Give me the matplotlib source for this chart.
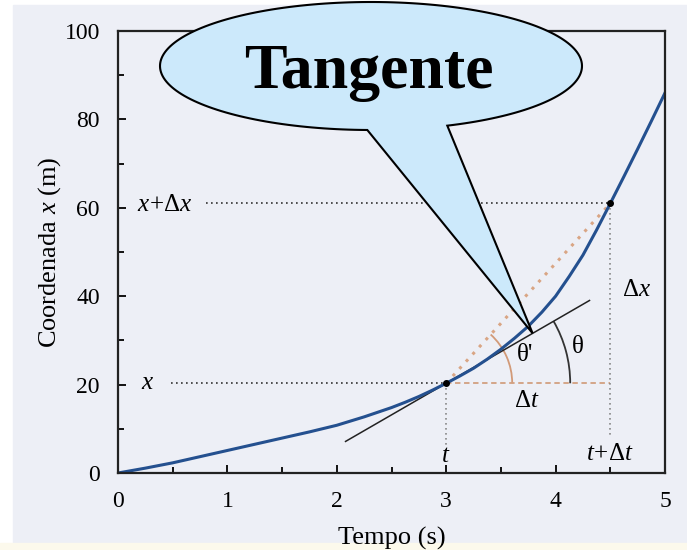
import numpy as np
import matplotlib.pyplot as plt
from matplotlib.patches import Arc, Polygon, Rectangle
from matplotlib.ticker import MultipleLocator

plt.rcParams['font.family'] = ['Liberation Serif', 'DejaVu Serif']
plt.rcParams['mathtext.fontset'] = 'custom'
plt.rcParams['mathtext.rm'] = 'Liberation Serif'
plt.rcParams['mathtext.it'] = 'Liberation Serif:italic'

# curva x(t)
tempo = [0, 0.25, 0.5, 0.75, 1.0, 1.25, 1.5, 1.75, 2.0, 2.25, 2.5,
         2.625, 2.75, 2.875, 3.0, 3.125, 3.25, 3.375, 3.5, 3.625, 3.75,
         3.875, 4.0, 4.125, 4.25, 4.375, 4.5, 4.625, 4.75, 4.875, 5.0]
posicao = [0, 1.1, 2.3, 3.7, 5.1, 6.5, 7.9, 9.3, 10.8, 12.7, 14.8,
           16.0, 17.3, 18.75, 20.3, 21.95, 23.7, 25.75, 28.0, 30.5, 33.2,
           36.4, 40.0, 44.5, 49.3, 55.0, 61.0, 67.1, 73.3, 79.6, 86.0]

t0, x0 = 3.0, 20.3      # instante t
t1, x1 = 4.5, 61.0      # instante t + dt
incl_tangente = 14.3    # m/s
tangente_t = [2.08, 4.31]
t_balao = 3.79          # ponta do balao sobre a tangente

W, H = 687, 550
fig = plt.figure(figsize=(W / 100, H / 100), dpi=100)
fig.patch.set_facecolor('white')
fig.patches.append(Rectangle((13 / W, 7 / H), 1 - 13 / W, 1 - 12 / H,
                             transform=fig.transFigure, color='#edeff6', zorder=-5))
fig.patches.append(Rectangle((0, 0), 1, 7 / H, transform=fig.transFigure,
                             color='#fcf9ec', zorder=-5))

ax = fig.add_axes([118 / W, 77 / H, 547 / W, 442 / H])
ax.set_facecolor('none')
ax.set_xlim(0, 5)
ax.set_ylim(0, 100)
ax.xaxis.set_major_locator(MultipleLocator(1))
ax.xaxis.set_minor_locator(MultipleLocator(0.5))
ax.yaxis.set_major_locator(MultipleLocator(20))
ax.yaxis.set_minor_locator(MultipleLocator(10))
ax.tick_params(which='both', direction='in', top=False, right=False, width=1.3)
ax.tick_params(which='major', length=6, labelsize=17, pad=13)
ax.tick_params(which='minor', length=4)
for s in ax.spines.values():
    s.set_linewidth(1.6)
    s.set_color('#222222')
ax.set_xlabel('Tempo (s)', fontsize=19, labelpad=11)
ax.set_ylabel('Coordenada $x$ (m)', fontsize=19, labelpad=1)

# linhas auxiliares
dot = (0, (1, 2))
ax.plot([0.48, t0], [x0, x0], color='#333333', lw=1.2, ls=dot)
ax.plot([0.8, t1], [x1, x1], color='#333333', lw=1.2, ls=dot)
ax.plot([t0, t1], [x0, x0], color='#d2a080', lw=1.3, ls=(0, (3, 2)))
ax.plot([t0, t0], [x0, 6], color='#888888', lw=1.2, ls=dot)
ax.plot([t1, t1], [x1, 8.5], color='#888888', lw=1.2, ls=dot)
ax.plot([t0, t1], [x0, x1], color='#d9a584', lw=2.2, ls=(0, (1, 2.2)))

# tangente em t
tg = np.array(tangente_t)
ax.plot(tg, x0 + incl_tangente * (tg - t0), color='#222222', lw=1.1)

ax.plot(tempo, posicao, color='#24508f', lw=2.2)
ax.plot([t0, t1], [x0, x1], 'o', color='black', ms=4)

# arcos dos angulos
sx, sy = 547 / 5, 442 / 100
r = 124
ax.add_patch(Arc((t0, x0), 2 * r / sx, 2 * r / sy, theta1=0,
                 theta2=np.degrees(np.arctan(incl_tangente)), color='#333333', lw=1.3))
r = 66
incl_secante = (x1 - x0) / (t1 - t0)
ax.add_patch(Arc((t0, x0), 2 * r / sx, 2 * r / sy, theta1=0,
                 theta2=np.degrees(np.arctan(incl_secante)), color='#d29a78', lw=1.3))

fs = 18
ax.text(0.27, x0, '$x$', ha='center', va='center', fontsize=fs)
ax.text(0.43, x1 - 0.3, r'$x\!+\!\Delta x$', ha='center', va='center', fontsize=fs)
ax.text(3.74, 16.2, r'$\Delta t$', ha='center', va='center', fontsize=fs)
ax.text(4.74, 41.5, r'$\Delta x$', ha='center', va='center', fontsize=fs)
ax.text(3.72, 26.8, "θ'", ha='center', va='center', fontsize=fs)
ax.text(4.2, 28.4, 'θ', ha='center', va='center', fontsize=fs)
ax.text(t0, 3.8, '$t$', ha='center', va='center', fontsize=fs)
ax.text(t1, 4.2, r'$t\!+\!\Delta t$', ha='center', va='center', fontsize=fs)

# balao "Tangente"
tip = ax.transData.transform((t_balao, x0 + incl_tangente * (t_balao - t0)))
cx, cy, a, b = 371, H - 66, 211, 64
ang = np.radians(np.linspace(-68.8, 269.0, 200))
px = np.append(cx + a * np.cos(ang), tip[0])
py = np.append(cy + b * np.sin(ang), tip[1])
fig.add_artist(Polygon(np.column_stack([px / W, py / H]), closed=True,
                       transform=fig.transFigure, facecolor='#cce9fb',
                       edgecolor='black', lw=1.5, zorder=5))
fig.text(369 / W, 1 - 88 / H, 'Tangente', ha='center', va='baseline',
         fontsize=46, fontweight='bold', zorder=6)

fig.savefig('out.png', dpi=100)
